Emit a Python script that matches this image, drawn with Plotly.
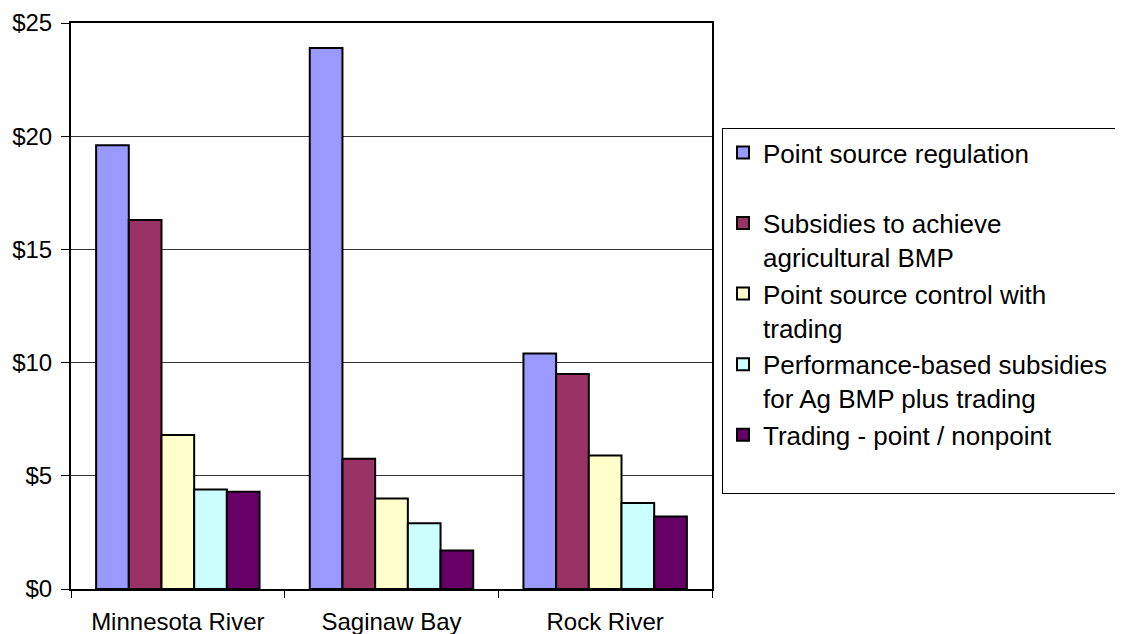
import plotly.graph_objects as go

categories = ["Minnesota River", "Saginaw Bay", "Rock River"]
series_names = [
    "Point source regulation<br> ",
    "Subsidies to achieve<br>agricultural BMP",
    "Point source control with<br>trading",
    "Performance-based subsidies&nbsp;&nbsp;&nbsp;<br>for Ag BMP plus trading",
    "Trading - point / nonpoint<br> ",
]
point_source_regulation = [19.6, 23.9, 10.4]
subsidies_ag_bmp = [16.3, 5.75, 9.5]
point_source_trading = [6.8, 4.0, 5.9]
performance_subsidies = [4.4, 2.9, 3.8]
trading_nonpoint = [4.3, 1.7, 3.2]
colors = ["#9999FF", "#993366", "#FFFFCC", "#CCFFFF", "#660066"]
y_ticks = [0, 5, 10, 15, 20, 25]
y_ticklabels = ["$0", "$5", "$10", "$15", "$20", "$25"]

series_values = [point_source_regulation, subsidies_ag_bmp, point_source_trading,
                 performance_subsidies, trading_nonpoint]

FONT = "Arial, Liberation Sans, sans-serif"

fig = go.Figure()
for name, vals, col in zip(series_names, series_values, colors):
    fig.add_trace(go.Bar(
        x=categories, y=vals, name=name,
        marker=dict(color=col, line=dict(color="#000000", width=2)),
    ))

fig.update_layout(
    width=1123, height=634,
    paper_bgcolor="white", plot_bgcolor="white",
    barmode="group", bargap=0.235, bargroupgap=0,
    margin=dict(l=63, r=419, t=15, b=53, autoexpand=False),
    font=dict(family=FONT, color="#000000", size=24),
    showlegend=True,
    legend=dict(
        x=1.0156, y=0.8145, xanchor="left", yanchor="top",
        bordercolor="#000000", borderwidth=1, bgcolor="white",
        font=dict(family=FONT, size=26, color="#000000"),
        valign="top", traceorder="normal", tracegroupgap=0,
    ),
)
fig.update_xaxes(
    showline=True, linecolor="#000000", linewidth=2, mirror=True,
    ticks="outside", tickson="boundaries", ticklen=7, tickcolor="#000000", tickwidth=1,
    tickfont=dict(family=FONT, size=24, color="#000000"),
    ticklabelstandoff=10,
    showgrid=False,
)
fig.update_yaxes(
    range=[0, 25], tickvals=y_ticks, ticktext=y_ticklabels,
    showline=True, linecolor="#000000", linewidth=2, mirror=True,
    ticks="outside", ticklen=8, tickcolor="#000000", tickwidth=1,
    tickfont=dict(family=FONT, size=24, color="#000000"),
    ticklabelstandoff=4,
    showgrid=True, gridcolor="#333333", gridwidth=1,
    zeroline=False,
)

fig.write_html("out.html")
